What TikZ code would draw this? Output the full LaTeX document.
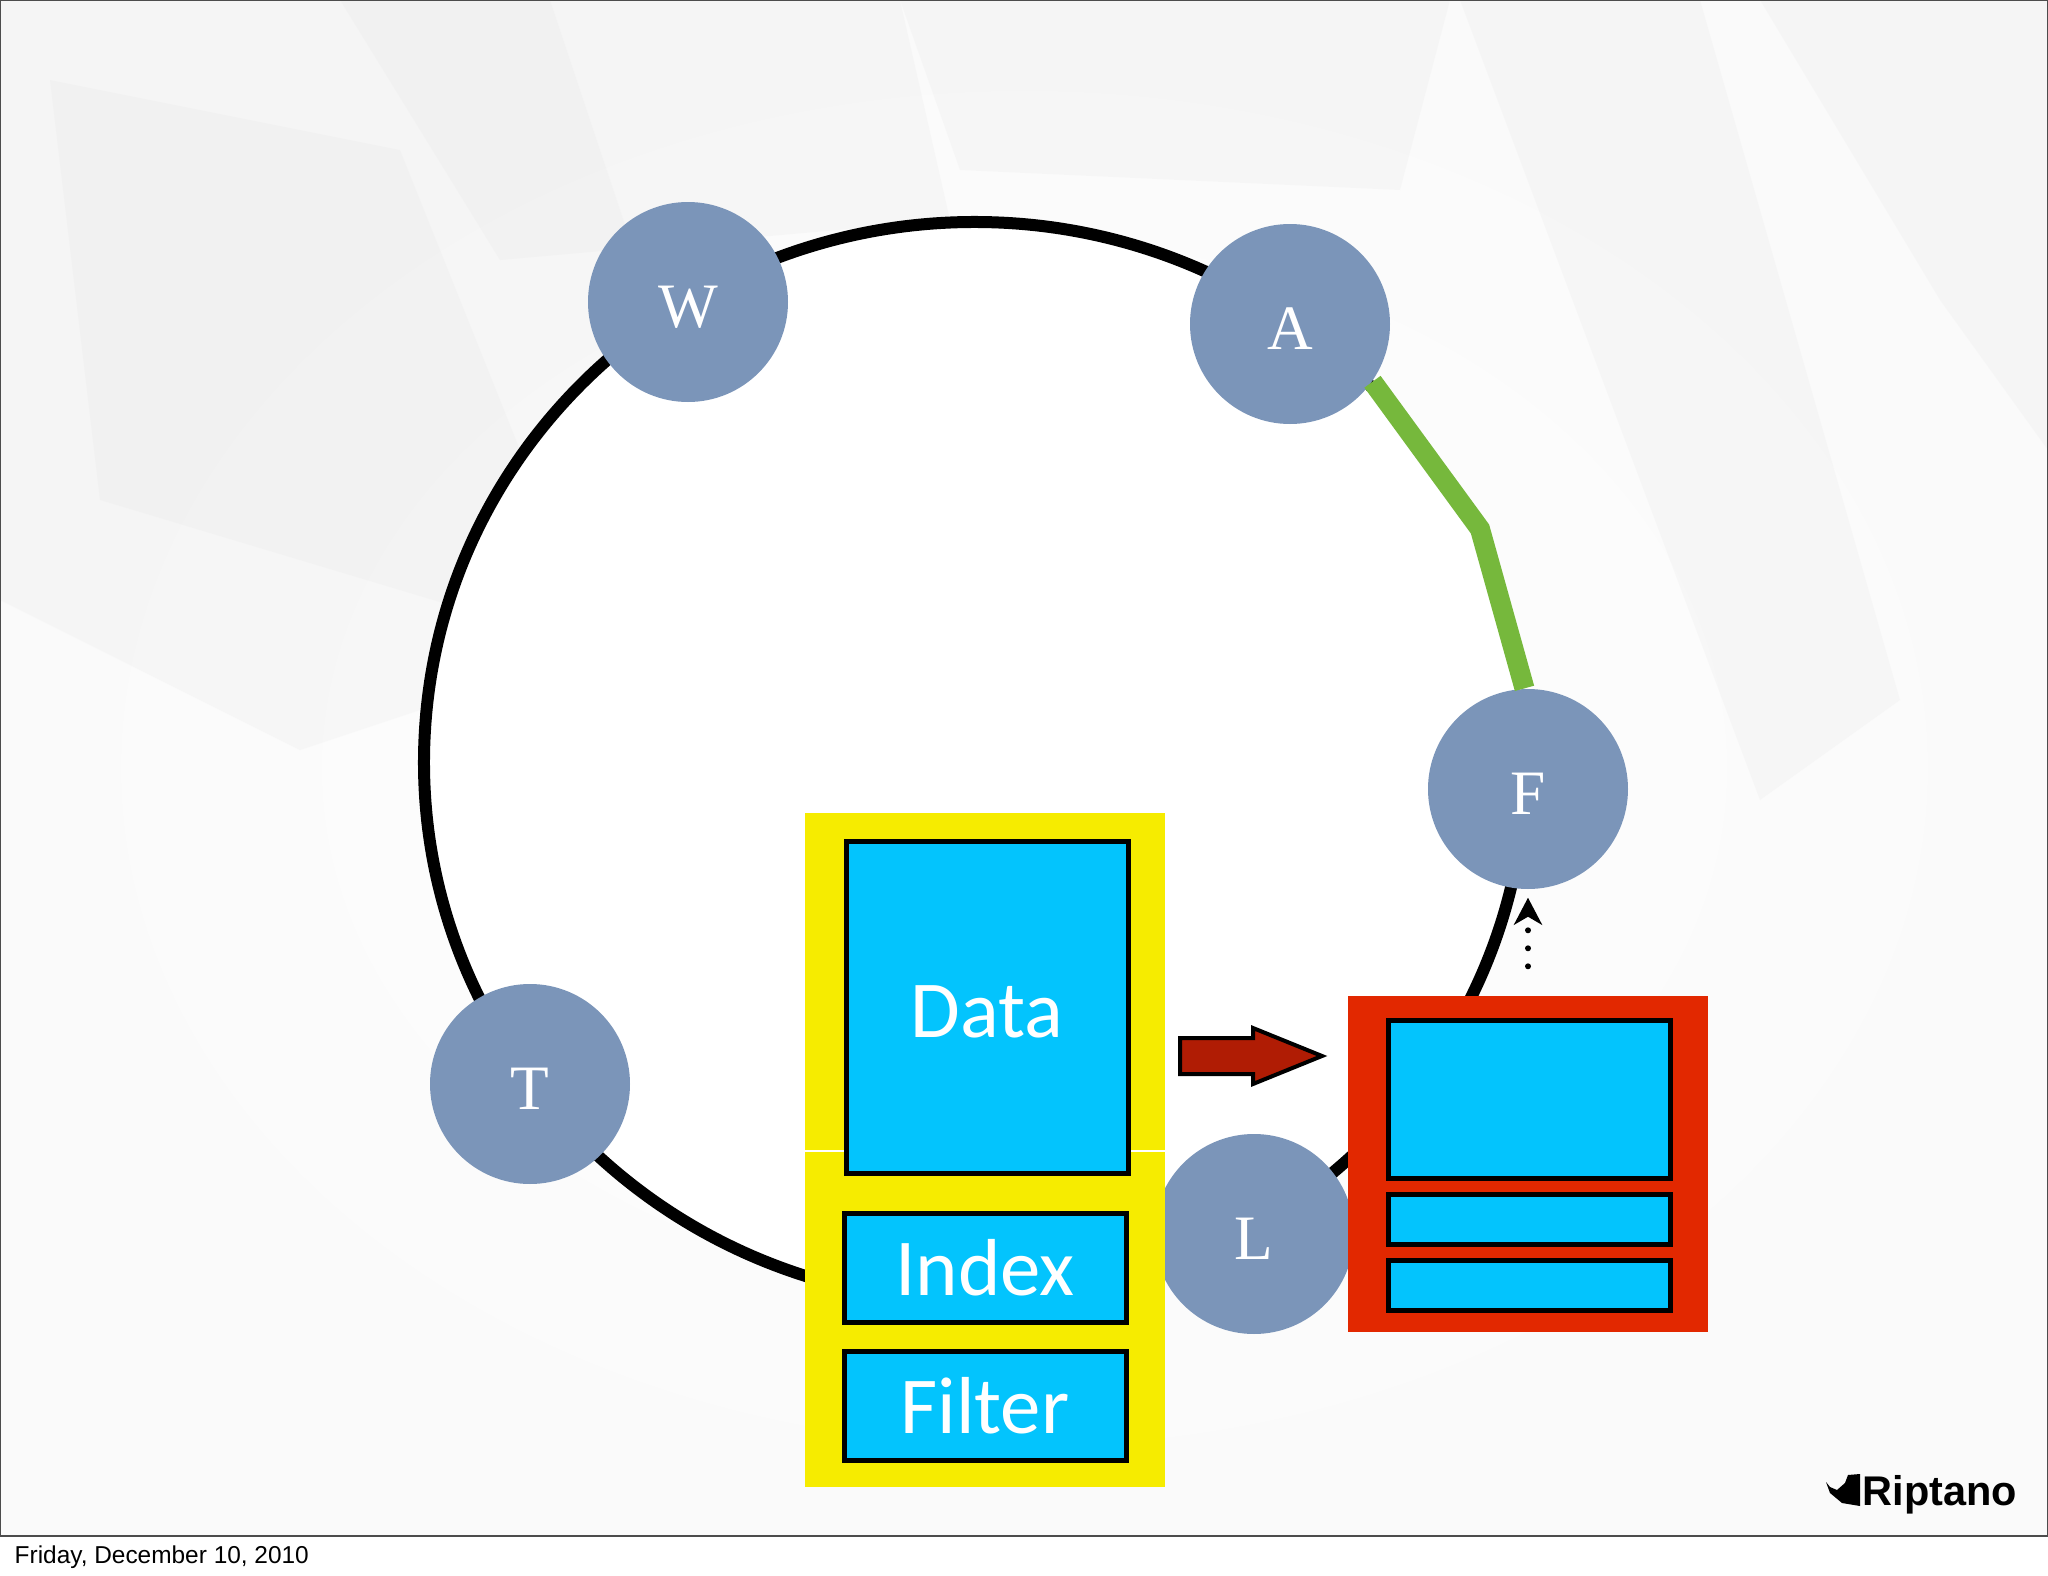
\documentclass[tikz,border=0pt]{standalone}
\usepackage{fontspec}
\usepackage{tikz}
\usetikzlibrary{arrows.meta,positioning}
\setmainfont{Liberation Serif}
\newfontfamily\labelfont{Carlito}
\newfontfamily\stampfont{Liberation Sans}
\definecolor{nodeblue}{HTML}{7B95B9}
\definecolor{cellblue}{HTML}{03C4FD}
\definecolor{boxyellow}{HTML}{F6EC00}
\definecolor{boxred}{HTML}{E22800}
\definecolor{arrowred}{HTML}{B01C04}
\definecolor{pathgreen}{HTML}{76B83C}
\definecolor{streak}{HTML}{E6E6E6}

\begin{document}
\begin{tikzpicture}[y=-1cm,inner sep=0pt,
    ringnode/.style={circle,fill=nodeblue,minimum size=2cm,text=white,text height=0.5cm,text depth=0pt,font=\fontsize{18}{20}\selectfont},
    cell/.style={rectangle,draw=black,line width=0.05cm,fill=cellblue,minimum width=2.82cm,text=white,font=\labelfont\fontsize{23}{25}\selectfont},
    slab/.style={rectangle,fill=boxyellow,minimum width=3.6cm}]
    \useasboundingbox (0,0) rectangle (20.48,15.76);
    % backdrop
    \shade[inner color=white,outer color=black!2] (0,0) rectangle (20.48,15.36);
    \begin{scope}
        \clip (0,0) rectangle (20.48,15.36);
        \foreach \pts in {{(0,0)--(5.5,0)--(7.5,6)--(3,7.5)--(0,6)},
                          {(0.5,0.8)--(4,1.5)--(6,6.5)--(1,5)},
                          {(3.4,0)--(9,0)--(9.5,2.2)--(5,2.6)},
                          {(14.6,0)--(17,0)--(19,7)--(17.6,8)},
                          {(17.6,0)--(20.48,0)--(20.48,4.5)--(19.4,3)},
                          {(9,0)--(14.5,0)--(14,1.9)--(9.6,1.7)}}
            \fill[streak,opacity=0.22] \pts -- cycle;
    \end{scope}
    \fill[white] (9.75,7.62) ellipse (5.5 and 5.4);
    \draw[black!70,line width=0.02cm] (0,0) rectangle (20.48,15.36);
    % ring, open between A and F
    \draw[line width=0.12cm] (9.75,7.62) ++(3:5.51 and 5.4)
        arc[start angle=3,end angle=316,x radius=5.51,y radius=5.4];
    % ring nodes
    \node[ringnode] (n_w) at (6.88,3.02) {W};
    \node[ringnode] (n_a) at (12.9,3.24) {A};
    \node[ringnode] (n_f) at (15.28,7.89) {F};
    \node[ringnode] (n_t) at (5.3,10.84) {T};
    \node[ringnode] (n_l) at (12.54,12.34) {L};
    \coordinate (c_bend) at (14.8,5.29);
    \draw[pathgreen,line width=0.2cm] (n_a.-35) -- (c_bend) -- (n_f.92);
    % merged table
    \node[slab,minimum height=3.37cm] (s_top) at (9.85,9.815) {};
    \node[slab,minimum height=3.35cm] (s_low) [below=0.002cm of s_top] {};
    \node[cell,minimum height=3.32cm,text height=0.6cm,text depth=0pt] (c_data) at (9.87,10.07) {Data};
    \node[cell,minimum height=1.09cm] (c_index) at (9.85,12.68) {Index};
    \node[cell,minimum height=1.09cm] (c_filter) at (9.85,14.06) {Filter};
    % new table
    \node[rectangle,fill=boxred,minimum width=3.6cm,minimum height=3.36cm] (s_new) at (15.28,11.64) {};
    \node[cell,minimum height=1.58cm] (n_data) at (15.29,10.99) {};
    \node[cell,minimum height=0.5cm] (n_index) [below=0.11cm of n_data] {};
    \node[cell,minimum height=0.5cm] (n_filter) [below=0.11cm of n_index] {};
    % flush arrow
    \coordinate (c_from) at (11.8,10.56);
    \coordinate (c_to) at (13.22,10.56);
    \draw[draw=black,fill=arrowred,line width=0.04cm,line join=miter]
        (c_from) ++(0,-0.18) -- ++(0.73,0) -- ++(0,-0.1) -- (c_to)
        -- (12.53,10.84) -- ++(0,-0.1) -- (11.8,10.74) -- cycle;
    % move up
    \draw[line width=0.06cm,line cap=round,dash pattern=on 0pt off 0.18cm,
          -{Stealth[length=0.27cm,width=0.28cm,inset=0.08cm]}]
        ([yshift=0.29cm]s_new.north) -- ([yshift=-0.08cm]n_f.south);
    % logo
    \fill (18.26,14.82) -- (18.3,14.93) -- (18.42,15.03) -- (18.6,15.06) -- (18.6,14.74)
        -- (18.48,14.75) -- (18.45,14.83) -- (18.37,14.9) -- (18.3,14.87) -- cycle;
    \node[anchor=base west,font=\stampfont\bfseries\fontsize{11.8}{14}\selectfont] (n_logo) at (18.62,15.05) {Riptano};
    \node[anchor=base west,font=\stampfont\fontsize{6.95}{8}\selectfont] (n_date) at (0.14,15.63) {Friday, December 10, 2010};
\end{tikzpicture}
\end{document}
